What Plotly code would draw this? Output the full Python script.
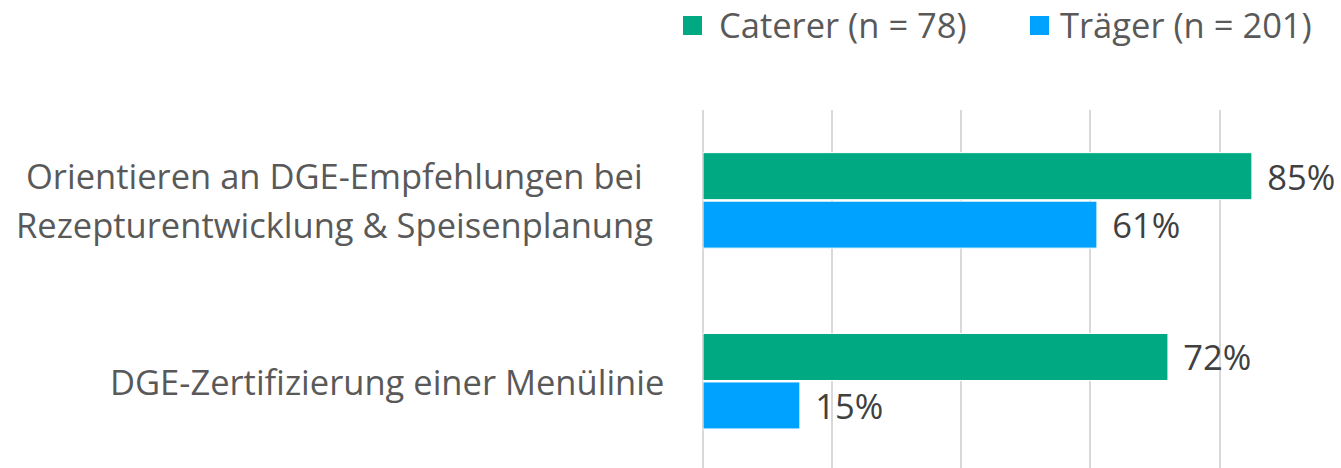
import plotly.graph_objects as go

categories = ["Orientieren an DGE-Empfehlungen bei<br>Rezepturentwicklung & Speisenplanung",
              "DGE-Zertifizierung einer Menülinie"]
series_names = ["Caterer (n = 78)", "Träger (n = 201)"]
caterer = [85, 72]
traeger = [61, 15]
colors = ["#00A982", "#00A2FF"]

FONT = "Open Sans"
FS = 34.5
W, H = 1341, 468
L, T = 703, 110
PW, PH = W - L, H - T


def px_x(px):
    return (px - L) / PW


def px_y(py):
    return (H - py) / PH


fig = go.Figure()
for name, vals, col in zip(series_names, [caterer, traeger], colors):
    fig.add_trace(go.Bar(
        y=categories, x=vals, orientation="h", name=name,
        marker=dict(color=col, line=dict(color="white", width=1)),
        text=vals, texttemplate="\u00a0\u200a%{x}%", textposition="outside",
        textfont=dict(family=FONT, size=FS, color="#404040"),
        constraintext="none", cliponaxis=False, showlegend=False,
    ))

# category labels (lines centred on each other, block right-aligned)
label_font = dict(family=FONT, size=FS, color="#595959")
for cat in categories:
    lines = cat.split("<br>")
    n = len(lines)
    for i, line in enumerate(lines):
        shift = (n - 1) / 2 * 49 - i * 49
        if n > 1:
            fig.add_annotation(x=px_x(334), xref="paper", y=cat, yref="y",
                               xanchor="center", yshift=shift, text=line,
                               showarrow=False, font=label_font)
        else:
            fig.add_annotation(x=px_x(666), xref="paper", y=cat, yref="y",
                               xanchor="right", yshift=shift, text=line,
                               showarrow=False, font=label_font)

# legend drawn manually
legend_pos = [(683, 717), (1030, 1058)]
for name, col, (sx, tx) in zip(series_names, colors, legend_pos):
    fig.add_shape(type="rect", xref="paper", yref="paper",
                  x0=px_x(sx), x1=px_x(sx + 19), y0=px_y(35), y1=px_y(16),
                  fillcolor=col, line=dict(width=0))
    fig.add_annotation(x=px_x(tx), y=px_y(25), xref="paper", yref="paper",
                       xanchor="left", yanchor="middle", text=name,
                       showarrow=False, font=label_font)

fig.update_layout(
    width=W, height=H,
    margin=dict(l=L, r=0, t=T, b=0),
    paper_bgcolor="white", plot_bgcolor="white",
    barmode="group", bargap=0.464, bargroupgap=0.03,
    font=dict(family=FONT, color="#595959"),
    showlegend=False,
    xaxis=dict(range=[0, 98.8], dtick=20, tick0=0, showgrid=True,
               gridcolor="#D9D9D9", gridwidth=2, showticklabels=False,
               zeroline=True, zerolinecolor="#D9D9D9", zerolinewidth=2,
               showline=False, fixedrange=True),
    yaxis=dict(type="category", categoryarray=categories, range=[1.48, -0.5],
               showticklabels=False, showgrid=False, zeroline=False, showline=False),
)

fig.write_html("out.html", config={"displayModeBar": False},
               post_script="document.body.style.margin='0';document.body.style.padding='0';")
